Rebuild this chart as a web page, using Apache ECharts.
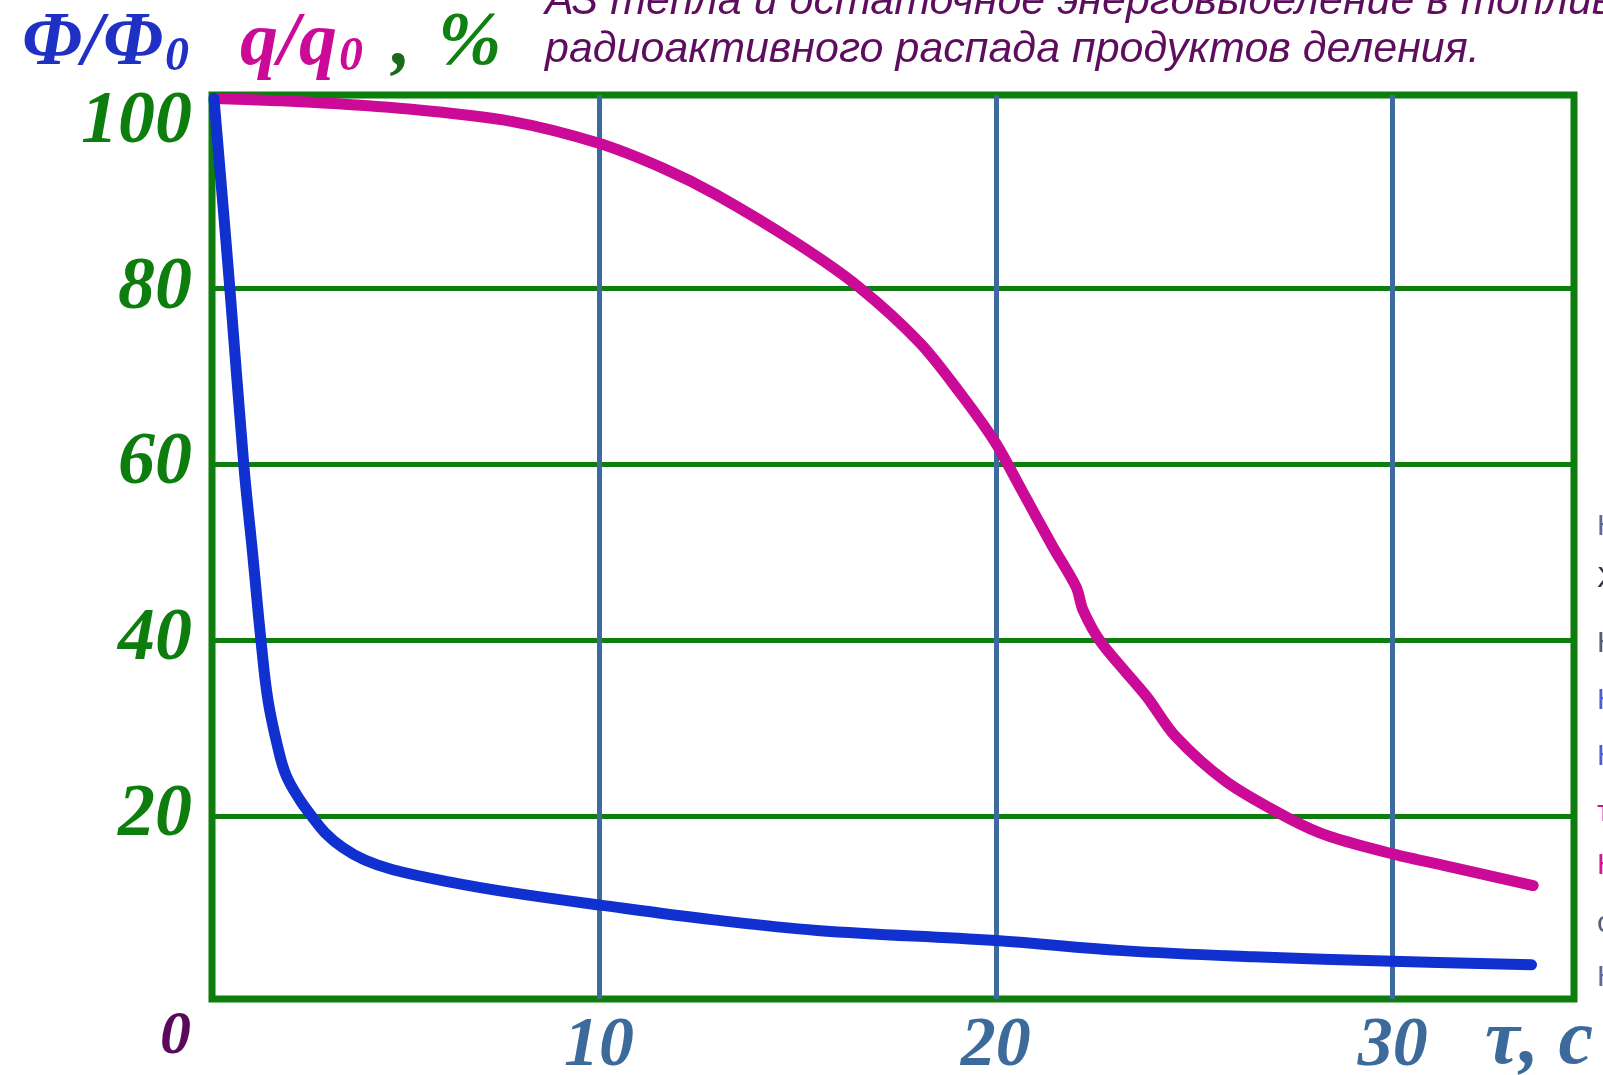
<!DOCTYPE html>
<html>
<head>
<meta charset="utf-8">
<script src="https://cdn.jsdelivr.net/npm/echarts@6/dist/echarts.min.js"></script>
<style>
  html, body { margin: 0; padding: 0; background: #ffffff; }
  #chart { width: 1603px; height: 1075px; }
</style>
</head>
<body>
<div id="chart"></div>
<script>
// Neutron flux decay Φ/Φ0 after scram, % (time τ, s)
const tauPhi = [0.3, 0.7, 1.05, 1.27, 1.49, 1.66, 1.91, 2.12, 2.47, 2.76, 3.1, 3.55, 4.1, 4.81, 6.25, 7.8, 10, 12.9, 15.5, 20, 23.2, 26.5, 30, 33.5];
const phi    = [101.6, 80, 60, 50, 39.7, 33.2, 27.8, 24.6, 21.8, 20, 18.1, 16.4, 15.0, 13.9, 12.5, 11.3, 9.9, 8.2, 7.0, 5.85, 4.7, 4.0, 3.5, 3.1];

// Heat flux from the fuel q/q0, % (time τ, s)
const tauQ = [0.32, 2.64, 5.21, 7.79, 10.0, 11.65, 12.94, 15.0, 16.54, 18.09, 19.12, 20.0, 20.66, 21.44, 22.03, 22.2, 22.66, 23.8, 24.52, 25.81, 27.36, 28.4, 30.0, 31.48, 33.54];
const q    = [101.6, 101.2, 100.4, 99.0, 96.5, 93.6, 90.7, 85.1, 80.2, 73.8, 68.0, 62.4, 57.0, 50.6, 46.0, 43.4, 39.7, 33.6, 29.1, 23.9, 19.8, 17.7, 15.7, 14.2, 12.1];

// Axis ticks
const xTicks = [10, 20, 30];
const yGridTicks = [20, 40, 60, 80];
const yLabelTicks = [20, 40, 60, 80, 100];

const zip = (xs, ys) => xs.map((x, i) => [x, ys[i]]);

const SERIF = '"Liberation Serif", "Times New Roman", serif';
const SANS = '"Liberation Sans", Arial, sans-serif';
const GREEN = '#0d7d0d';
const STEEL = '#3b6a9b';
const PURPLE = '#5e0d5e';

// First letters of the neighbouring text column at the right edge
const edgeLetters = [
  { y: 528, ch: 'Н', color: '#5a6a9a' },
  { y: 580, ch: 'Х', color: '#333344' },
  { y: 645, ch: 'Н', color: '#50607a' },
  { y: 702, ch: 'Н', color: '#4a5ee0' },
  { y: 758, ch: 'Н', color: '#4a5ee0' },
  { y: 814, ch: 'т', color: '#d0108f' },
  { y: 867, ch: 'Н', color: '#e0109a' },
  { y: 925, ch: 'с', color: '#50607a' },
  { y: 979, ch: 'Н', color: '#5a6a9a' }
];

const chart = echarts.init(document.getElementById('chart'), null, { renderer: 'canvas' });

const graphics = [
  { type: 'text', left: 22, top: 6, style: { text: 'Φ/Φ', font: 'italic bold 76px ' + SERIF, fill: '#1f30c4' } },
  { type: 'text', left: 165, top: 34, style: { text: '0', font: 'italic bold 48px ' + SERIF, fill: '#1f30c4' } },
  { type: 'text', left: 240, top: 6, style: { text: 'q/q', font: 'italic bold 76px ' + SERIF, fill: '#cc0a98' } },
  { type: 'text', left: 339, top: 34, style: { text: '0', font: 'italic bold 48px ' + SERIF, fill: '#cc0a98' } },
  { type: 'text', left: 392, top: 6, style: { text: ',', font: 'italic bold 76px ' + SERIF, fill: '#1a6a1a' } },
  { type: 'text', left: 438, top: 6, style: { text: '%', font: 'italic bold 76px ' + SERIF, fill: '#108010' } },
  { type: 'text', left: 545, top: -19, style: { text: 'АЗ тепла и остаточное энерговыделение в топливе за счёт', font: 'italic 43px ' + SANS, fill: PURPLE } },
  { type: 'text', left: 545, top: 29, style: { text: 'радиоактивного распада продуктов деления.', font: 'italic 43px ' + SANS, fill: PURPLE } },
  { type: 'text', left: 160, top: 1006, style: { text: '0', font: 'italic bold 62px ' + SERIF, fill: '#5a0a5c' } },
  { type: 'text', left: 1485, top: 1004, style: { text: 'τ, c', font: 'italic bold 78px ' + SERIF, fill: STEEL } }
].concat(edgeLetters.map(e => ({
  type: 'text', left: 1597, top: e.y - 16,
  style: { text: e.ch, font: '30px ' + SANS, fill: e.color }
})));

chart.setOption({
  backgroundColor: '#ffffff',
  animation: false,
  grid: {
    left: 212, right: 29, top: 95, bottom: 76,
    outerBoundsMode: 'none', containLabel: false,
    show: true, borderColor: GREEN, borderWidth: 7, backgroundColor: 'transparent'
  },
  xAxis: {
    type: 'value', min: 0.25, max: 34.57,
    axisLine: { show: false },
    axisTick: { show: false, customValues: xTicks },
    axisLabel: {
      customValues: xTicks, margin: 13,
      color: STEEL, fontFamily: SERIF, fontStyle: 'italic', fontWeight: 'bold', fontSize: 70
    },
    splitLine: { show: true, lineStyle: { color: STEEL, width: 5 } }
  },
  yAxis: {
    type: 'value', min: -0.8, max: 102,
    axisLine: { show: false },
    axisTick: { show: false, customValues: yGridTicks },
    axisLabel: {
      customValues: yLabelTicks, margin: 20,
      color: GREEN, fontFamily: SERIF, fontStyle: 'italic', fontWeight: 'bold', fontSize: 74,
      formatter: v => (v === 100 ? '{lo|100}' : String(v)),
      rich: {
        lo: { padding: [20, 0, 0, 0], color: GREEN, fontFamily: SERIF, fontStyle: 'italic', fontWeight: 'bold', fontSize: 74 }
      }
    },
    splitLine: { show: true, lineStyle: { color: GREEN, width: 5 } }
  },
  graphic: graphics,
  series: [
    {
      name: 'q/q0', type: 'line', data: zip(tauQ, q),
      smooth: 0.3, showSymbol: false,
      lineStyle: { color: '#cc0a98', width: 11, cap: 'round', join: 'round' }
    },
    {
      name: 'Φ/Φ0', type: 'line', data: zip(tauPhi, phi),
      smooth: 0.4, showSymbol: false,
      lineStyle: { color: '#1030d0', width: 11, cap: 'round', join: 'round' }
    }
  ]
});
</script>
</body>
</html>
